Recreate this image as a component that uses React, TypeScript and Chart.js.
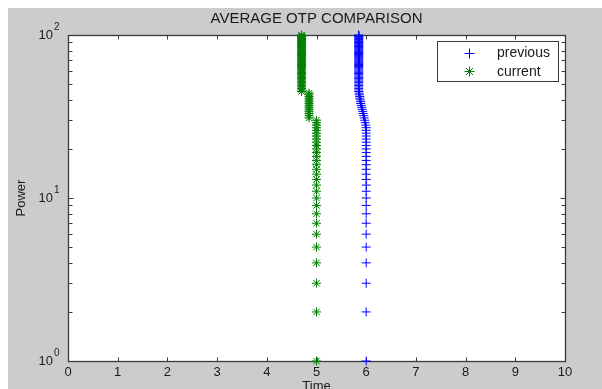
import React, { useEffect, useRef } from "react";
import { Chart, registerables } from "chart.js";

Chart.register(...registerables);

const chartTitle = "AVERAGE OTP COMPARISON";
const xAxisTitle = "Time";
const yAxisTitle = "Power";
const seriesNames = ["previous", "current"];
const xTickLabels = ["0", "1", "2", "3", "4", "5", "6", "7", "8", "9", "10"];
const yDecades = [1, 10, 100];
const yExponents = ["0", "1", "2"];

const powerLevels = [
  1, 2, 3, 4, 5, 6, 7, 8, 9, 10,
  11, 12, 13, 14, 15, 16, 17, 18, 19, 20,
  21, 22, 23, 24, 25, 26, 27, 28, 29, 30,
  31, 32, 33, 34, 35, 36, 37, 38, 39, 40,
  41, 42, 43, 44, 45, 46, 47, 48, 49, 50,
  51, 52, 53, 54, 55, 56, 57, 58, 59, 60,
  61, 62, 63, 64, 65, 66, 67, 68, 69, 70,
  71, 72, 73, 74, 75, 76, 77, 78, 79, 80,
  81, 82, 83, 84, 85, 86, 87, 88, 89, 90,
  91, 92, 93, 94, 95, 96, 97, 98, 99, 100,
];

const previousTime = [
  6, 6, 6, 6, 6, 6, 6, 6, 6, 6,
  6, 6, 6, 6, 6, 6, 6, 6, 6, 6,
  6, 6, 6, 6, 6, 6, 6, 5.99, 5.98, 5.97,
  5.96, 5.95, 5.94, 5.93, 5.92, 5.91, 5.9, 5.89, 5.89, 5.88,
  5.87, 5.87, 5.86, 5.86, 5.85, 5.85, 5.85, 5.85, 5.85, 5.85,
  5.85, 5.85, 5.85, 5.85, 5.85, 5.85, 5.85, 5.85, 5.85, 5.85,
  5.85, 5.85, 5.85, 5.85, 5.85, 5.85, 5.85, 5.85, 5.85, 5.85,
  5.85, 5.85, 5.85, 5.85, 5.85, 5.85, 5.85, 5.85, 5.85, 5.85,
  5.85, 5.85, 5.85, 5.85, 5.85, 5.85, 5.85, 5.85, 5.85, 5.85,
  5.85, 5.85, 5.85, 5.85, 5.85, 5.85, 5.85, 5.85, 5.85, 5.85,
];

const currentTime = [
  5, 5, 5, 5, 5, 5, 5, 5, 5, 5,
  5, 5, 5, 5, 5, 5, 5, 5, 5, 5,
  5, 5, 5, 5, 5, 5, 5, 5, 5, 5,
  4.85, 4.85, 4.85, 4.85, 4.85, 4.85, 4.85, 4.85, 4.85, 4.85,
  4.85, 4.85, 4.85, 4.85, 4.7, 4.7, 4.7, 4.7, 4.7, 4.7,
  4.7, 4.7, 4.7, 4.7, 4.7, 4.7, 4.7, 4.7, 4.7, 4.7,
  4.7, 4.7, 4.7, 4.7, 4.7, 4.7, 4.7, 4.7, 4.7, 4.7,
  4.7, 4.7, 4.7, 4.7, 4.7, 4.7, 4.7, 4.7, 4.7, 4.7,
  4.7, 4.7, 4.7, 4.7, 4.7, 4.7, 4.7, 4.7, 4.7, 4.7,
  4.7, 4.7, 4.7, 4.7, 4.7, 4.7, 4.7, 4.7, 4.7, 4.7,
];

const FONT = "'Liberation Sans', Arial, Helvetica, sans-serif";
const BLUE = "#0000ff";
const GREEN = "#008000";
const AXIS = "#3a3a3a";
const TEXT = "#1a1a1a";

function drawPlus(ctx: CanvasRenderingContext2D, x: number, y: number, r: number, color: string) {
  ctx.strokeStyle = color;
  ctx.lineWidth = 1;
  ctx.beginPath();
  ctx.moveTo(x - r, y);
  ctx.lineTo(x + r, y);
  ctx.moveTo(x, y - r);
  ctx.lineTo(x, y + r);
  ctx.stroke();
}

function drawStar(ctx: CanvasRenderingContext2D, x: number, y: number, r: number, color: string) {
  drawPlus(ctx, x, y, r, color);
  const d = r * 0.707;
  ctx.strokeStyle = color;
  ctx.beginPath();
  ctx.moveTo(x - d, y - d);
  ctx.lineTo(x + d, y + d);
  ctx.moveTo(x - d, y + d);
  ctx.lineTo(x + d, y - d);
  ctx.stroke();
}

const matlabPlugin = {
  id: "matlabLook",
  beforeDraw(chart: any) {
    const { ctx, chartArea: ca, width, height } = chart;
    ctx.save();
    ctx.fillStyle = "#ffffff";
    ctx.fillRect(0, 0, width, height);
    ctx.fillStyle = "#cccccc";
    ctx.fillRect(8, 8, width - 8, height - 8);
    ctx.fillStyle = "#ffffff";
    ctx.fillRect(ca.left, ca.top, ca.right - ca.left, ca.bottom - ca.top);
    ctx.restore();
  },
  beforeDatasetsDraw(chart: any) {
    const { ctx, chartArea: ca, scales } = chart;
    const xs = scales.x;
    const ys = scales.y;
    ctx.save();
    ctx.strokeStyle = AXIS;
    ctx.lineWidth = 1;
    const L = Math.round(ca.left) + 0.5;
    const R = Math.round(ca.right) + 0.5;
    const T = Math.round(ca.top) + 0.5;
    const B = Math.round(ca.bottom) + 0.5;
    ctx.beginPath();
    for (let i = 0; i < xTickLabels.length; i++) {
      const px = Math.round(xs.getPixelForValue(i)) + 0.5;
      ctx.moveTo(px, B);
      ctx.lineTo(px, B - 4);
      ctx.moveTo(px, T);
      ctx.lineTo(px, T + 4);
    }
    for (let d = 0; d < yDecades.length; d++) {
      for (let m = 1; m <= 9; m++) {
        const v = yDecades[d] * m;
        if (v > yDecades[yDecades.length - 1]) break;
        const py = Math.round(ys.getPixelForValue(v)) + 0.5;
        const len = m === 1 ? 5 : 4;
        ctx.moveTo(L, py);
        ctx.lineTo(L + len, py);
        ctx.moveTo(R, py);
        ctx.lineTo(R - len, py);
      }
    }
    ctx.stroke();
    ctx.lineWidth = 1.3;
    ctx.strokeRect(L, T, R - L, B - T);
    ctx.restore();
  },
  afterDraw(chart: any) {
    const { ctx, chartArea: ca, scales } = chart;
    const ys = scales.y;
    ctx.save();
    ctx.fillStyle = TEXT;
    // title
    ctx.font = `15px ${FONT}`;
    ctx.textAlign = "center";
    ctx.textBaseline = "middle";
    ctx.fillText(chartTitle, (ca.left + ca.right) / 2, 19);
    // y tick labels with exponents
    for (let i = 0; i < yDecades.length; i++) {
      const py = ys.getPixelForValue(yDecades[i]);
      ctx.font = `13px ${FONT}`;
      ctx.textAlign = "right";
      ctx.textBaseline = "middle";
      ctx.fillText("10", 53, py);
      ctx.font = `10px ${FONT}`;
      ctx.textAlign = "left";
      ctx.fillText(yExponents[i], 54, py - 8);
    }
    // axis titles
    ctx.font = `13px ${FONT}`;
    ctx.textAlign = "center";
    ctx.textBaseline = "top";
    ctx.fillText(xAxisTitle, (ca.left + ca.right) / 2, 380);
    ctx.save();
    ctx.translate(21, 198);
    ctx.rotate(-Math.PI / 2);
    ctx.textBaseline = "middle";
    ctx.fillText(yAxisTitle, 0, 0);
    ctx.restore();
    // legend
    ctx.fillStyle = "#ffffff";
    ctx.fillRect(438, 42, 120, 39);
    ctx.strokeStyle = AXIS;
    ctx.lineWidth = 1;
    ctx.strokeRect(437.5, 41.5, 121, 40);
    drawPlus(ctx, 469.5, 53.5, 5, BLUE);
    drawStar(ctx, 469.5, 71.5, 5, GREEN);
    ctx.fillStyle = TEXT;
    ctx.font = `14px ${FONT}`;
    ctx.textAlign = "left";
    ctx.textBaseline = "middle";
    ctx.fillText(seriesNames[0], 497, 53.5);
    ctx.fillText(seriesNames[1], 497, 72);
    ctx.restore();
  },
};

export default function App() {
  const ref = useRef<HTMLCanvasElement | null>(null);

  useEffect(() => {
    if (!ref.current) return;
    const chart = new Chart(ref.current, {
      type: "scatter",
      data: {
        datasets: [
          {
            label: seriesNames[0],
            data: powerLevels.map((p, i) => ({ x: previousTime[i], y: p })),
            showLine: false,
            pointStyle: "cross",
            pointRadius: 4.5,
            pointBorderWidth: 1,
            borderColor: BLUE,
            backgroundColor: BLUE,
            clip: false,
          },
          {
            label: seriesNames[1],
            data: powerLevels.map((p, i) => ({ x: currentTime[i], y: p })),
            showLine: false,
            pointStyle: "star",
            pointRadius: 4.5,
            pointBorderWidth: 1,
            borderColor: GREEN,
            backgroundColor: GREEN,
            clip: false,
          },
        ],
      },
      options: {
        responsive: false,
        animation: false,
        devicePixelRatio: 1,
        layout: { padding: { left: 0, right: 37, top: 35, bottom: 0 } },
        plugins: {
          legend: { display: false },
          tooltip: { enabled: false },
          title: { display: false },
        },
        scales: {
          x: {
            type: "linear",
            min: 0,
            max: 10,
            afterFit: (s: any) => {
              s.height = 28;
            },
            grid: { display: false, drawTicks: false },
            border: { display: false },
            ticks: {
              stepSize: 1,
              padding: 4,
              autoSkip: false,
              maxRotation: 0,
              color: TEXT,
              font: { family: FONT, size: 13 },
              callback: (v: any) => xTickLabels[Math.round(Number(v))],
            },
          },
          y: {
            type: "logarithmic",
            min: 1,
            max: 100,
            afterFit: (s: any) => {
              s.width = 68;
            },
            grid: { display: false, drawTicks: false },
            border: { display: false },
            ticks: { display: false },
          },
        },
      },
      plugins: [matlabPlugin],
    } as any);
    return () => chart.destroy();
  }, []);

  return (
    <div style={{ position: "fixed", left: 0, top: 0, width: 602, height: 389 }}>
      <canvas ref={ref} width={602} height={389} style={{ display: "block" }} />
    </div>
  );
}
